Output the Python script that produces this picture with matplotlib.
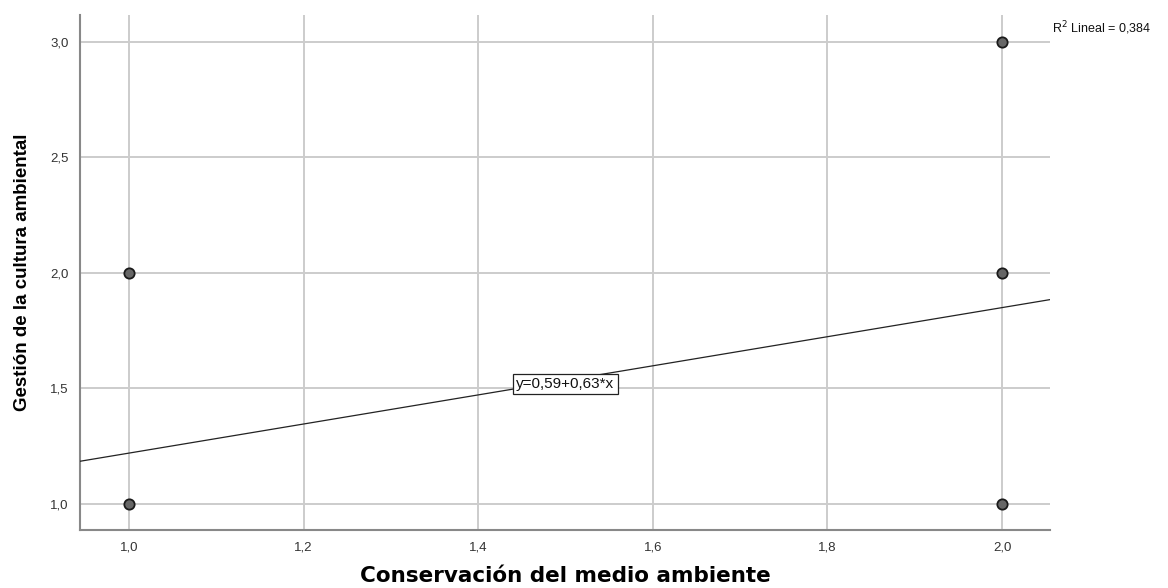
import matplotlib
matplotlib.use("Agg")
import numpy as np
import matplotlib.pyplot as plt

# observed pairs (conservación, gestión)
conservacion = [1.0, 1.0, 2.0, 2.0, 2.0]
gestion = [1.0, 2.0, 1.0, 2.0, 3.0]

# linear fit reported by the model
intercepto = 0.59
pendiente = 0.63
r2 = "0,384"

x_ticks = [1.0, 1.2, 1.4, 1.6, 1.8, 2.0]
y_ticks = [1.0, 1.5, 2.0, 2.5, 3.0]


def coma(v):
    return f"{v:.1f}".replace(".", ",")


def main():
    plt.rcParams["font.family"] = ["Liberation Sans", "DejaVu Sans"]

    fig = plt.figure(figsize=(11.68, 5.88), dpi=100)
    ax = fig.add_axes([0.0685, 0.0986, 0.8305, 0.8759])

    xlim = (0.944, 2.055)
    ax.set_xlim(*xlim)
    ax.set_ylim(0.887, 3.117)

    ax.set_xticks(x_ticks)
    ax.set_yticks(y_ticks)
    ax.set_xticklabels([coma(v) for v in x_ticks])
    ax.set_yticklabels([coma(v) for v in y_ticks])
    ax.tick_params(length=0, labelsize=9.5, colors="#333333", pad=8)

    ax.grid(True, color="#cccccc", linewidth=1.4)
    ax.set_axisbelow(True)

    for s in ["top", "right"]:
        ax.spines[s].set_visible(False)
    for s in ["left", "bottom"]:
        ax.spines[s].set_color("#888888")
        ax.spines[s].set_linewidth(1.5)

    # regression line across the whole x range
    xs = np.array(xlim)
    ax.plot(xs, intercepto + pendiente * xs, color="#222222", linewidth=0.9, zorder=3)

    ax.scatter(conservacion, gestion, s=55, facecolor="#666666",
               edgecolor="#1a1a1a", linewidth=1.3, zorder=4)

    xm = 1.5
    ax.text(xm, intercepto + pendiente * xm - 0.015,
            "y=" + f"{intercepto:.2f}".replace(".", ",") + "+" +
            f"{pendiente:.2f}".replace(".", ",") + "*x",
            ha="center", va="center", fontsize=11, color="#111111", zorder=5,
            bbox=dict(boxstyle="square,pad=0.2", facecolor="white",
                      edgecolor="#222222", linewidth=0.9))

    fig.text(0.901, 0.952, "R$^2$ Lineal = " + r2, fontsize=9, color="#111111",
             ha="left", va="center")

    ax.set_xlabel("Conservación del medio ambiente", fontsize=15.5,
                  fontweight="bold", labelpad=9, family=["DejaVu Sans"])
    ax.set_ylabel("Gestión de la cultura ambiental", fontsize=13.5,
                  fontweight="bold", labelpad=14,
                  family=["Liberation Sans Narrow", "Liberation Sans"])

    fig.savefig("out.png", dpi=100)


if __name__ == "__main__":
    main()
